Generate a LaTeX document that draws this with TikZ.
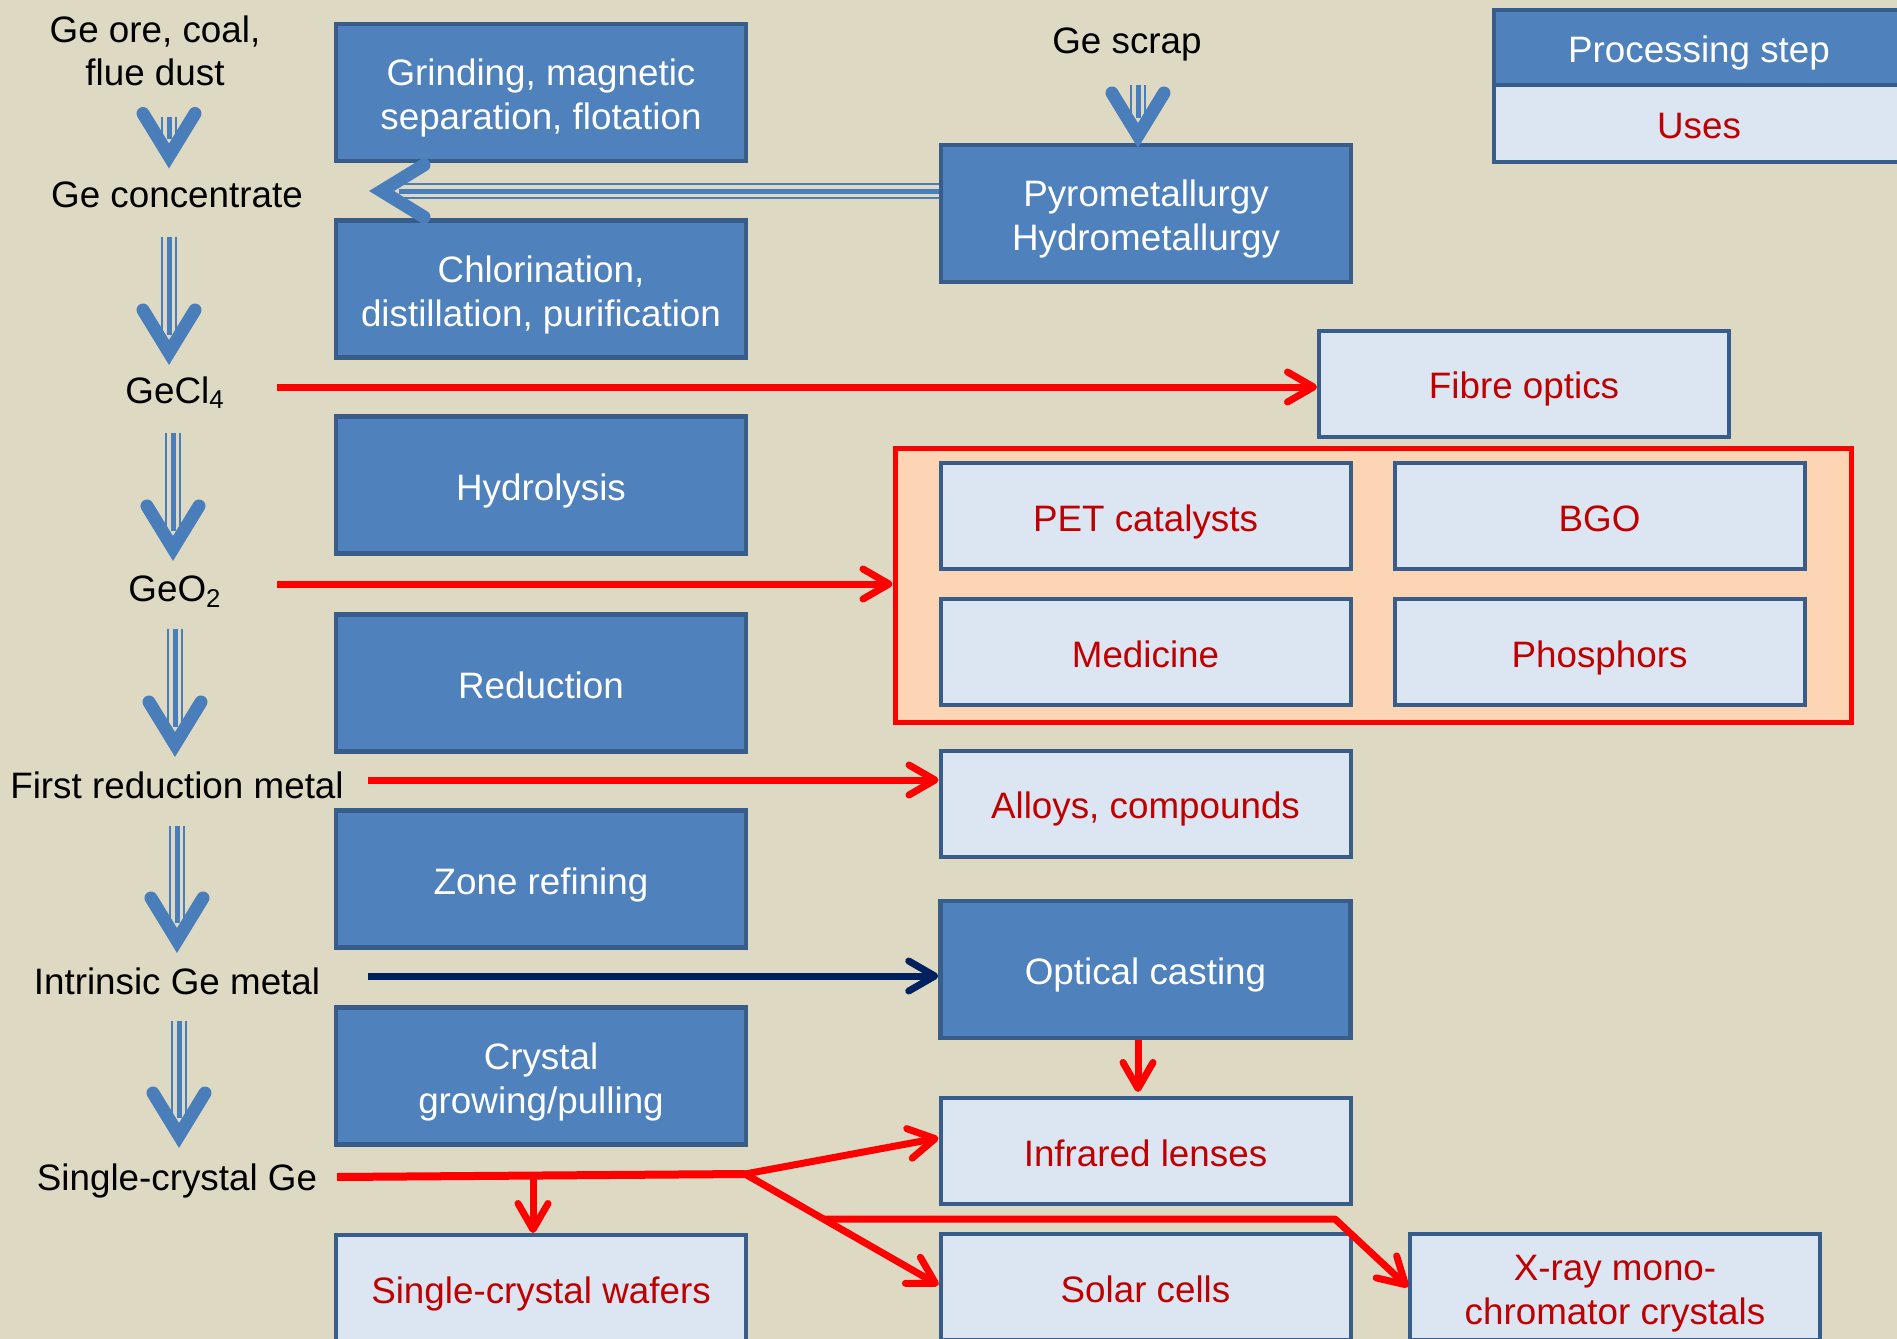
\documentclass[tikz,border=0pt]{standalone}
\usepackage{fontspec}
\setmainfont{Liberation Sans}
\usetikzlibrary{arrows.meta,calc}
\definecolor{bg}{HTML}{DDD9C3}
\definecolor{stepfill}{HTML}{4F81BD}
\definecolor{stepdraw}{HTML}{385D8A}
\definecolor{usefill}{HTML}{DCE6F2}
\definecolor{usetext}{HTML}{C00000}
\definecolor{grpfill}{HTML}{FCD5B5}
\definecolor{navy}{HTML}{002060}
\definecolor{flowblue}{HTML}{4A7EBB}
\newcommand\bigfont{\fontsize{18.4pt}{21.8pt}\selectfont}
\newcommand\flowdown[2]{%
  \draw[flowblue, line width=1.3pt] ($(#1)+(-7,0)$) -- ($(#2)+(-7,-30)$);
  \draw[flowblue, line width=2.5pt] (#1) -- ($(#2)+(0,-30)$);
  \draw[flowblue, line width=1.3pt] ($(#1)+(7,0)$) -- ($(#2)+(7,-30)$);
  \draw[flowblue, line width=6.5pt, line cap=round, line join=miter]
    ($(#2)+(-26,-55)$) -- ($(#2)+(0,-12.5)$) -- ($(#2)+(26,-55)$);
}
\newcommand\flowleft[2]{%
  \draw[flowblue, line width=1.3pt] ($(#1)+(0,-7)$) -- ($(#2)+(30,-7)$);
  \draw[flowblue, line width=2.5pt] (#1) -- ($(#2)+(30,0)$);
  \draw[flowblue, line width=1.3pt] ($(#1)+(0,7)$) -- ($(#2)+(30,7)$);
  \draw[flowblue, line width=6.5pt, line cap=round, line join=miter]
    ($(#2)+(55,-26)$) -- ($(#2)+(12.5,0)$) -- ($(#2)+(55,26)$);
}
\tikzset{
  boxtext/.style={align=center, inner sep=0pt, font=\bigfont,
    text height=19.15pt, text depth=3.9pt},
  twoline/.style={text height=40.95pt, text depth=3.9pt},
  stepbox/.style={boxtext, draw=stepdraw, fill=stepfill, line width=2.25pt, minimum width=205pt,
    minimum height=68.5pt, text=white},
  usebox/.style={boxtext, draw=stepdraw, fill=usefill, line width=2pt, minimum width=205pt,
    minimum height=53pt, text=usetext},
  grpbox/.style={draw=red, fill=grpfill, line width=2.5pt, minimum width=478pt,
    minimum height=137pt, inner sep=0pt},
  lbl/.style={anchor=base, inner sep=0pt, font=\bigfont, text=black, align=center},
  redline/.style={draw=red, line width=3.5pt, line join=round},
  redarrow/.style={redline, -{Straight Barb[length=13pt,width=15pt,round]}},
  navyarrow/.style={draw=navy, line width=3.5pt, -{Straight Barb[length=13pt,width=15pt,round]}},
}
\begin{document}
\begin{tikzpicture}[x=0.5pt, y=-0.5pt]
\fill[bg] (0,0) rectangle (1897,1339);
\useasboundingbox (0,0) rectangle (1897,1339);
\clip (0,0) rectangle (1897,1339);

% left column labels
\node[lbl, anchor=center] (ore) at (155,51) {Ge ore, coal,\\flue dust};
\node[lbl] (conc) at (177,207) {Ge concentrate};
\node[lbl] (gecl) at (175,403) {GeCl\textsubscript{4}};
\node[lbl] (geo) at (175,601) {GeO\textsubscript{2}};
\node[lbl] (frm) at (177,798) {First reduction metal};
\node[lbl] (igm) at (177,994) {Intrinsic Ge metal};
\node[lbl] (scg) at (177,1190) {Single-crystal Ge};
\node[lbl] (scrap) at (1127,53) {Ge scrap};

% processing steps
\node[stepbox, twoline] (grind) at (541,92.5) {Grinding, magnetic\\separation, flotation};
\node[stepbox, twoline] (chlor) at (541,289) {Chlorination,\\distillation, purification};
\node[stepbox] (hydro) at (541,485) {Hydrolysis};
\node[stepbox] (reduc) at (541,683) {Reduction};
\node[stepbox] (zone) at (541,879) {Zone refining};
\node[stepbox, twoline] (cryst) at (541,1076) {Crystal\\growing/pulling};
\node[stepbox, twoline] (pyro) at (1146,213.5) {Pyrometallurgy\\Hydrometallurgy};
\node[stepbox] (optic) at (1145.5,969.5) {Optical casting};

% uses
\node[usebox] (fibre) at (1524,383.5) {Fibre optics};
\node[grpbox] (group) at (1373,585) {};
\node[usebox] (pet) at (1145.5,516) {PET catalysts};
\node[usebox] (bgo) at (1599.5,516) {BGO};
\node[usebox] (med) at (1145.5,652) {Medicine};
\node[usebox] (phos) at (1599.5,652) {Phosphors};
\node[usebox] (alloys) at (1145.5,803.5) {Alloys, compounds};
\node[usebox] (infra) at (1145.5,1151) {Infrared lenses};
\node[usebox] (wafer) at (541,1288) {Single-crystal wafers};
\node[usebox] (solar) at (1145.5,1287) {Solar cells};
\node[usebox, twoline] (xray) at (1615,1287) {X-ray mono-\\chromator crystals};

% legend
\node[usebox, minimum height=38.5pt, line width=2.25pt] (leguse) at (1699,123.5) {Uses};
\node[stepbox, minimum height=37.5pt] (legstep) at (1699,47.5) {Processing step};

% blue flow arrows
\coordinate (a1s) at (169,117);  \coordinate (a1t) at (169,168.5);
\coordinate (a2s) at (169,237);  \coordinate (a2t) at (169,365);
\coordinate (a3s) at (173,433);  \coordinate (a3t) at (173,561);
\coordinate (a4s) at (175,629);  \coordinate (a4t) at (175,757);
\coordinate (a5s) at (177,826);  \coordinate (a5t) at (177,953);
\coordinate (a6s) at (179,1021); \coordinate (a6t) at (179,1148);
\coordinate (a7s) at (1138,85);  \coordinate (a7t) at (1138,148);
\flowdown{a1s}{a1t}
\flowdown{a2s}{a2t}
\flowdown{a3s}{a3t}
\flowdown{a4s}{a4t}
\flowdown{a5s}{a5t}
\flowdown{a6s}{a6t}
\flowdown{a7s}{a7t}
\coordinate (hs) at (pyro.west |- 0,191);
\coordinate (ht) at (369,191);
\flowleft{hs}{ht}

% use arrows
\coordinate (r1) at (277,387);
\draw[redarrow] (r1) -- (r1 -| fibre.west);
\coordinate (r2) at (277,584);
\draw[redarrow] (r2) -- (r2 -| group.west);
\coordinate (r3) at (368,780);
\draw[redarrow] (r3) -- (r3 -| alloys.west);
\coordinate (r4) at (368,976);
\draw[navyarrow] (r4) -- (r4 -| optic.west);
\coordinate (r5) at (1138,0);
\draw[redarrow, shorten >=2pt] (r5 |- optic.south) -- (r5 |- infra.north);

% single-crystal Ge distribution
\coordinate (s0) at (337,1177);
\coordinate (sj) at (745,1174);
\coordinate (sd) at (533,1176);
\coordinate (sk) at (823,1219);
\coordinate (sm) at (1335,1219);
\draw[redline, line width=4pt] (s0) -- (sj);
\draw[redarrow] (sd) -- (sd |- wafer.north);
\draw[redarrow] (sj) -- ($(infra.west)+(0,-13)$);
\draw[redarrow] (sj) -- ($(solar.west)+(0,-2)$);
\draw[redarrow] (sk) -- (sm) -- (xray.west);
\end{tikzpicture}
\end{document}
